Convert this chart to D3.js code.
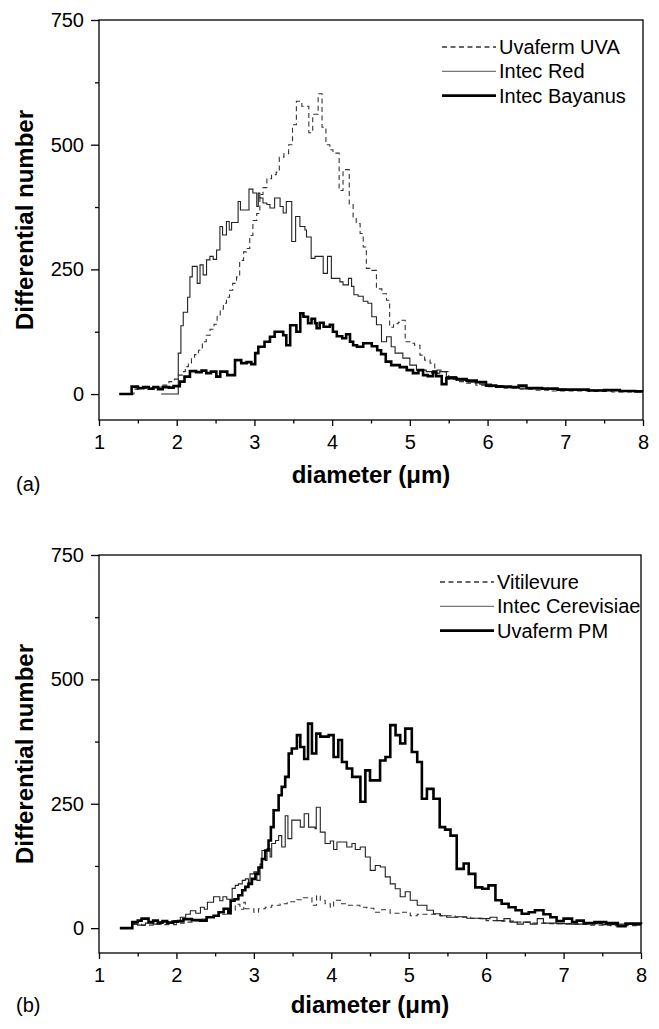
<!DOCTYPE html>
<html>
<head>
<meta charset="utf-8">
<script src="https://cdn.jsdelivr.net/npm/d3@7"></script>
<style>
  body { margin: 0; background: #fff; }
  text { font-family: "Liberation Sans", Arial, Helvetica, sans-serif; }
</style>
</head>
<body>
<svg id="chart"></svg>
<script>
// axis ticks
const xTicks = [1, 2, 3, 4, 5, 6, 7, 8];
const xMinorTicks = [1.5, 2.5, 3.5, 4.5, 5.5, 6.5, 7.5];
const yTicks = [0, 250, 500, 750];
const yMinorTicks = [125, 375, 625];

// panel (a): [diameter where step starts, differential number]
const namesA = ["Uvaferm UVA", "Intec Red", "Intec Bayanus"];
const uvafermUVA = [[1.3,0],[1.45,10],[1.55,12],[1.65,10],[1.72,14],[1.8,18],[1.9,25],[1.97,30],[2.02,38],[2.07,45],[2.11,55],[2.15,62],[2.19,72],[2.23,79],[2.28,88],[2.33,105],[2.38,118],[2.43,130],[2.48,140],[2.52,155],[2.56,170],[2.6,182],[2.64,194],[2.68,208],[2.72,222],[2.77,235],[2.81,268],[2.86,285],[2.9,292],[2.94,318],[2.98,348],[3.03,362],[3.07,400],[3.11,414],[3.16,432],[3.22,440],[3.28,445],[3.32,475],[3.38,482],[3.44,500],[3.49,540],[3.54,587],[3.61,577],[3.7,524],[3.75,561],[3.82,602],[3.87,535],[3.92,500],[3.97,490],[4.01,483],[4.09,408],[4.14,450],[4.22,380],[4.27,352],[4.31,342],[4.36,322],[4.4,295],[4.44,252],[4.51,248],[4.57,211],[4.64,201],[4.7,188],[4.74,134],[4.79,141],[4.85,144],[4.89,148],[4.94,105],[5.0,102],[5.06,98],[5.13,78],[5.19,68],[5.26,62],[5.32,48],[5.42,45],[5.5,30],[5.6,25],[5.7,22],[5.85,18],[6.0,15],[6.2,12],[6.4,10],[6.6,8],[6.8,6],[7.0,6],[7.3,5],[7.6,4],[8.0,3]];
const intecRed = [[1.8,0],[2.02,82],[2.054,137],[2.084,164],[2.14,194],[2.17,235],[2.2,256],[2.264,222],[2.3,259],[2.34,239],[2.384,269],[2.427,276],[2.47,270],[2.513,289],[2.556,336],[2.59,319],[2.64,346],[2.676,329],[2.706,344],[2.79,386],[2.82,369],[2.93,411],[2.98,403],[3.03,376],[3.05,403],[3.07,393],[3.11,383],[3.16,380],[3.2,373],[3.26,393],[3.33,376],[3.37,363],[3.41,386],[3.48,306],[3.53,356],[3.585,336],[3.65,329],[3.67,315],[3.73,272],[3.78,276],[3.885,242],[3.94,276],[3.99,232],[4.1,225],[4.14,219],[4.21,232],[4.25,216],[4.28,199],[4.335,196],[4.4,186],[4.46,182],[4.51,155],[4.57,139],[4.635,105],[4.7,115],[4.76,95],[4.81,82],[4.91,72],[5.0,58],[5.085,48],[5.21,45],[5.28,42],[5.385,45],[5.47,35],[5.6,28],[5.75,24],[5.9,20],[6.05,17],[6.2,15],[6.4,12],[6.6,11],[6.8,10],[7.0,9],[7.3,8],[7.6,7],[8.0,6]];
const intecBayanus = [[1.26,0],[1.42,15],[1.5,12],[1.57,14],[1.64,11],[1.7,14],[1.76,10],[1.82,14],[1.9,13],[1.96,16],[2.04,25],[2.1,35],[2.17,46],[2.25,44],[2.32,47],[2.38,42],[2.44,45],[2.51,35],[2.56,45],[2.65,38],[2.75,68],[2.83,62],[2.9,64],[2.96,60],[3.01,82],[3.05,95],[3.13,105],[3.2,115],[3.26,125],[3.37,118],[3.41,98],[3.46,138],[3.54,125],[3.59,162],[3.63,155],[3.69,142],[3.735,151],[3.78,142],[3.8,132],[3.84,143],[3.89,135],[3.97,139],[4.01,125],[4.06,116],[4.13,112],[4.18,120],[4.23,105],[4.27,98],[4.32,95],[4.4,102],[4.51,96],[4.58,88],[4.63,80],[4.69,65],[4.76,58],[4.87,54],[4.96,48],[5.04,42],[5.11,48],[5.17,38],[5.23,36],[5.3,45],[5.34,36],[5.41,20],[5.47,32],[5.6,30],[5.73,27],[5.86,24],[5.98,17],[6.11,15],[6.3,14],[6.4,17],[6.5,12],[6.7,11],[6.9,9],[7.1,9],[7.3,7],[7.5,8],[7.7,6],[7.9,5],[8.0,5]];

// panel (b)
const namesB = ["Vitilevure", "Intec Cerevisiae", "Uvaferm PM"];
const vitilevure = [[1.27,0],[1.43,8],[1.55,6],[1.7,8],[1.85,7],[2.0,10],[2.1,12],[2.2,15],[2.3,18],[2.4,22],[2.5,25],[2.6,28],[2.7,35],[2.76,48],[2.82,38],[2.87,52],[2.89,39],[3.0,32],[3.06,39],[3.147,42],[3.23,46],[3.34,49],[3.43,53],[3.556,57],[3.64,61],[3.75,46],[3.81,65],[3.858,56],[3.92,49],[3.987,42],[4.03,56],[4.116,49],[4.2,46],[4.37,42],[4.46,40],[4.55,32],[4.63,37],[4.76,30],[4.9,32],[5.02,25],[5.11,28],[5.4,25],[5.6,22],[5.8,20],[6.0,15],[6.2,14],[6.4,12],[6.6,10],[6.8,9],[7.0,8],[7.3,6],[7.6,5],[8.0,4]];
const intecCerevisiae = [[1.27,0],[1.43,8],[1.5,6],[1.6,10],[1.7,8],[1.8,12],[1.9,10],[1.97,15],[2.05,22],[2.12,28],[2.18,35],[2.25,30],[2.31,42],[2.36,38],[2.4,52],[2.48,63],[2.56,55],[2.6,63],[2.65,58],[2.72,80],[2.76,86],[2.8,89],[2.85,96],[2.89,99],[2.93,92],[2.95,109],[3.0,113],[3.04,96],[3.08,129],[3.105,156],[3.147,136],[3.17,160],[3.21,143],[3.23,170],[3.28,176],[3.32,186],[3.36,163],[3.405,226],[3.44,180],[3.49,217],[3.6,203],[3.65,230],[3.707,203],[3.79,200],[3.806,243],[3.858,193],[3.92,170],[3.987,175],[4.03,158],[4.073,173],[4.2,163],[4.267,170],[4.31,158],[4.374,163],[4.44,143],[4.503,116],[4.568,126],[4.633,123],[4.697,103],[4.762,89],[4.826,79],[4.89,63],[4.955,73],[5.02,56],[5.11,46],[5.235,36],[5.32,29],[5.41,25],[5.49,22],[5.62,23],[5.75,20],[5.92,19],[6.05,22],[6.14,15],[6.23,19],[6.31,12],[6.4,8],[6.48,12],[6.57,8],[6.66,19],[6.74,10],[6.91,9],[7.1,8],[7.3,9],[7.5,7],[7.7,8],[7.9,6],[8.0,6]];
const uvafermPM = [[1.27,0],[1.43,12],[1.5,15],[1.55,19],[1.64,12],[1.7,15],[1.76,11],[1.82,14],[1.88,11],[1.95,13],[2.02,14],[2.09,18],[2.2,16],[2.31,15],[2.39,22],[2.48,25],[2.545,32],[2.61,39],[2.67,30],[2.7,55],[2.75,58],[2.8,66],[2.85,76],[2.89,83],[2.93,89],[2.975,99],[3.02,109],[3.06,122],[3.104,139],[3.147,156],[3.19,176],[3.22,203],[3.255,237],[3.32,267],[3.36,284],[3.405,304],[3.45,351],[3.49,361],[3.556,388],[3.6,364],[3.65,340],[3.7,411],[3.75,351],[3.806,391],[3.858,385],[3.966,388],[4.03,344],[4.09,378],[4.138,334],[4.2,321],[4.27,304],[4.376,254],[4.44,317],[4.5,297],[4.63,337],[4.7,344],[4.762,408],[4.83,388],[4.89,371],[4.955,401],[5.04,354],[5.11,334],[5.17,260],[5.235,280],[5.32,260],[5.4,203],[5.47,198],[5.54,186],[5.62,119],[5.71,130],[5.775,109],[5.86,82],[5.95,79],[6.03,86],[6.12,56],[6.2,49],[6.29,42],[6.38,36],[6.46,29],[6.55,32],[6.63,36],[6.74,28],[6.83,22],[6.91,14],[7.0,19],[7.11,12],[7.17,15],[7.26,10],[7.4,12],[7.55,10],[7.7,4],[7.8,9],[8.0,8]];

const svg = d3.select("#chart").attr("width", 659).attr("height", 1029);

// dashed, thin, thick
const lineStyles = [
  {stroke: "#333", width: 1.1, dash: "5,3.5"},
  {stroke: "#222", width: 1.1, dash: null},
  {stroke: "#000", width: 2.6, dash: null}
];

function drawPanel(p) {
  const x = d3.scaleLinear().domain([1, 8]).range([p.left, p.right]);
  const y = d3.scaleLinear().domain([p.yMin, 750]).range([p.bottom, p.top]);
  const g = svg.append("g");

  const styleAxis = sel => {
    sel.select(".domain").remove();
    sel.selectAll("line").attr("stroke", "#000").attr("stroke-width", 1.3);
    sel.selectAll("text").attr("font-size", 20).attr("font-family", "Liberation Sans, Arial, sans-serif").attr("fill", "#000");
  };

  g.append("g").attr("transform", `translate(0,${p.bottom})`)
    .call(d3.axisBottom(x).tickValues(xTicks).tickFormat(d3.format("d")).tickSize(6).tickPadding(9).tickSizeOuter(0))
    .call(styleAxis);
  g.append("g").attr("transform", `translate(0,${p.bottom})`)
    .call(d3.axisBottom(x).tickValues(xMinorTicks).tickFormat("").tickSize(3.5).tickSizeOuter(0))
    .call(styleAxis);
  g.append("g").attr("transform", `translate(${p.left},0)`)
    .call(d3.axisLeft(y).tickValues(yTicks).tickFormat(d3.format("d")).tickSize(8).tickPadding(7).tickSizeOuter(0))
    .call(styleAxis);
  g.append("g").attr("transform", `translate(${p.left},0)`)
    .call(d3.axisLeft(y).tickValues(yMinorTicks).tickFormat("").tickSize(4).tickSizeOuter(0))
    .call(styleAxis);

  // frame
  g.append("rect")
    .attr("x", p.left).attr("y", p.top)
    .attr("width", p.right - p.left).attr("height", p.bottom - p.top)
    .attr("fill", "none").attr("stroke", "#000").attr("stroke-width", 1.3);

  const line = d3.line().x(d => x(d[0])).y(d => y(d[1])).curve(d3.curveStepAfter);

  p.series.forEach((s, i) => {
    const st = lineStyles[i];
    g.append("path").datum(s)
      .attr("d", line)
      .attr("fill", "none")
      .attr("stroke", st.stroke)
      .attr("stroke-width", st.width)
      .attr("stroke-linejoin", "miter")
      .attr("stroke-dasharray", st.dash);
  });

  // legend
  p.names.forEach((name, i) => {
    const st = lineStyles[i];
    const ly = p.legendTop + i * 24.3;
    g.append("line")
      .attr("x1", p.legendX).attr("x2", p.legendX + 54)
      .attr("y1", ly).attr("y2", ly)
      .attr("stroke", i === 1 ? "#777" : st.stroke)
      .attr("stroke-width", i === 2 ? 2.6 : 1.3)
      .attr("stroke-dasharray", st.dash);
    g.append("text")
      .attr("x", p.legendX + 57).attr("y", ly + 7)
      .attr("font-size", 20)
      .text(name);
  });

  // axis titles
  g.append("text")
    .attr("transform", `translate(33,${(p.top + p.bottom) / 2}) rotate(-90)`)
    .attr("text-anchor", "middle")
    .attr("font-size", 24).attr("font-weight", "bold")
    .text("Differential number");
  g.append("text")
    .attr("x", (p.left + p.right) / 2).attr("y", p.bottom + p.titleGap)
    .attr("text-anchor", "middle")
    .attr("font-size", 24).attr("font-weight", "bold")
    .text("diameter (\u03bcm)");
  g.append("text")
    .attr("x", 16).attr("y", p.bottom + p.labelGap)
    .attr("font-size", 20)
    .text(p.label);
}

drawPanel({
  left: 99, right: 643, top: 20, bottom: 420, yMin: -52,
  series: [uvafermUVA, intecRed, intecBayanus], names: namesA,
  legendX: 442, legendTop: 47, label: "(a)", titleGap: 63, labelGap: 71
});
drawPanel({
  left: 99, right: 641, top: 555, bottom: 953, yMin: -50,
  series: [vitilevure, intecCerevisiae, uvafermPM], names: namesB,
  legendX: 440, legendTop: 582, label: "(b)", titleGap: 60, labelGap: 59
});
</script>
</body>
</html>
